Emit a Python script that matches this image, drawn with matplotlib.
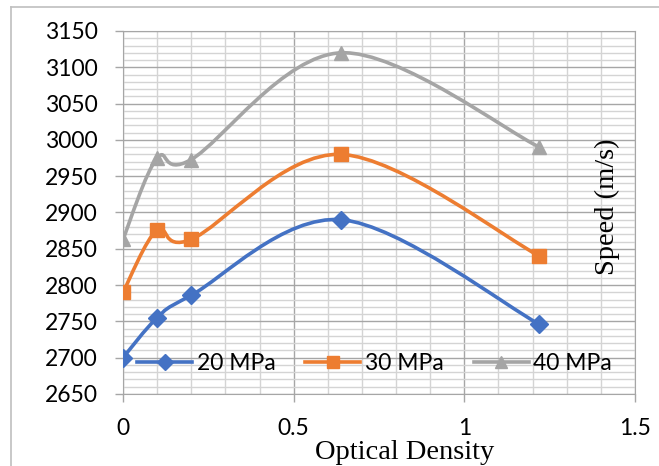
"""Speed versus optical density at three pressures (Excel-style smoothed lines)."""

from matplotlib import pyplot
from matplotlib.lines import Line2D
from matplotlib.patches import PathPatch
from matplotlib.path import Path
import numpy


# Data.
optical_density = [0.0, 0.1, 0.2, 0.64, 1.22]
speed_20 = [2700, 2755, 2786, 2890, 2746]
speed_30 = [2790, 2876, 2863, 2980, 2840]
speed_40 = [2863, 2975, 2973, 3120, 2990]
labels = ['20 MPa', '30 MPa', '40 MPa']
colors = ['#4472C4', '#ED7D31', '#A5A5A5']
markers = ['D', 's', '^']
marker_sizes = [9, 10, 9.5]


def smooth_path(x, y):
    """Bezier path through the points, like Excel's smoothed line."""
    p = numpy.column_stack([x, y]).astype(float)
    ext = numpy.vstack([p[0], p, p[-1]])
    verts = [p[0]]
    codes = [Path.MOVETO]
    for i in range(len(p) - 1):
        p0, p1, p2, p3 = ext[i], ext[i + 1], ext[i + 2], ext[i + 3]
        verts += [p1 + (p2 - p0) / 6, p2 - (p3 - p1) / 6, p2]
        codes += [Path.CURVE4] * 3
    return Path(verts, codes)


W, H = 659, 466
fig = pyplot.figure(figsize=(W / 100, H / 100), dpi=100)
ax = fig.add_axes([123 / W, 1 - 394 / H, 512 / W, 363 / H])

# Outer chart-area border (left and top only are visible).
fig.add_artist(Line2D([11 / W, 11 / W], [0, 1 - 7 / H], color='#BFBFBF', lw=1.2))
fig.add_artist(Line2D([11 / W, 1], [1 - 7 / H, 1 - 7 / H], color='#BFBFBF', lw=1.2))

series = [speed_20, speed_30, speed_40]
handles = []
for yv, lab, col, mk, ms in zip(series, labels, colors, markers, marker_sizes):
    ax.add_patch(PathPatch(smooth_path(optical_density, yv), facecolor='none',
                           edgecolor=col, lw=2.6, zorder=3))
    ax.plot(optical_density, yv, linestyle='none', marker=mk, color=col,
            markersize=ms, zorder=4)
    handles.append(Line2D([], [], color=col, lw=2.6, marker=mk,
                          markersize=ms - 1))

ax.set_xlim(0.0, 1.5)
ax.set_ylim(2650, 3150)
ax.set_xticks([0, 0.5, 1, 1.5])
ax.set_xticklabels(['0', '0.5', '1', '1.5'])
ax.set_xticks(numpy.arange(0, 1.51, 0.1), minor=True)
ax.set_yticks(numpy.arange(2650, 3151, 50))
ax.set_yticks(numpy.arange(2650, 3151, 10), minor=True)
ax.grid(which='minor', color='#D4D4D4', lw=1.0)
ax.grid(which='major', color='#A6A6A6', lw=1.0)
ax.set_axisbelow(True)
for spine in ax.spines.values():
    spine.set_color('#A6A6A6')
ax.tick_params(which='major', length=6, width=1.0, color='#A6A6A6',
               labelsize=16.5)
ax.tick_params(axis='y', which='major', pad=12)
ax.tick_params(axis='x', which='major', pad=11)
ax.tick_params(which='minor', length=0)
for lab in ax.get_xticklabels() + ax.get_yticklabels():
    lab.set_family('Lato')

ax.set_xlabel('Optical Density', family='Liberation Serif', fontsize=20.5)
ax.xaxis.set_label_coords(0.551, -0.128)
ax.text(0.947, 0.515, 'Speed (m/s)', transform=ax.transAxes, rotation=90,
        ha='center', va='center', family='Liberation Serif', fontsize=20.5)

ax.legend(handles=handles, labels=labels, ncol=3, frameon=False,
          loc='center left', bbox_to_anchor=(0.028, 0.085),
          borderaxespad=0, borderpad=0, handlelength=2.4,
          handletextpad=0.2, columnspacing=1.3,
          prop={'family': 'Lato', 'size': 16.5})

fig.savefig('out.png', dpi=100)
